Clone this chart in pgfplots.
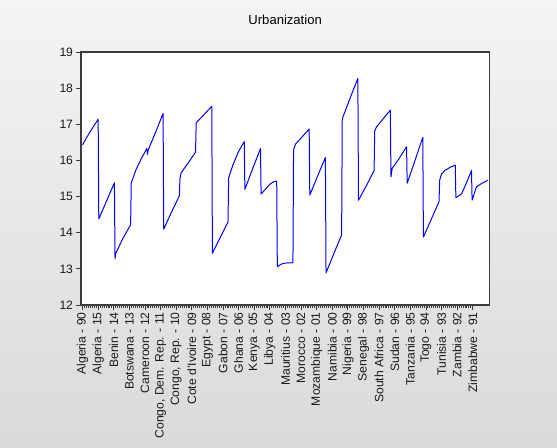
\documentclass[border=0pt]{standalone}
\usepackage{pgfplots}
\pgfplotsset{compat=1.18}
\usepackage{fontspec}
\setmainfont{Liberation Sans}
\definecolor{bgtop}{HTML}{F4F4F4}
\definecolor{bgbot}{HTML}{DADADA}
\definecolor{framec}{HTML}{3C3C3C}
\definecolor{linec}{HTML}{0000FF}
\begin{document}
\begin{tikzpicture}
\shade[top color=bgtop, bottom color=bgbot] (0pt,0pt) rectangle (417.75pt,335.25pt);
\begin{axis}[
  at={(60.75pt,106.5pt)}, anchor=south west,
  scale only axis, width=306.2pt, height=189.75pt,
  xmin=-2.5, xmax=651.5, ymin=12, ymax=19,
  axis background/.style={fill=white},
  axis line style={draw=framec, line width=0.9pt},
  tick style={draw=framec, line width=0.6pt},
  tick align=outside,
  xtick pos=left, ytick pos=left,
  major tick length=3.8pt, minor tick length=2.4pt,
  xtick={0,25,...,625}, minor x tick num=7,
  xticklabels={Algeria - 90, Algeria - 15, Benin - 14, Botswana - 13, Cameroon - 12, {Congo, Dem. Rep. - 11}, {Congo, Rep. - 10}, Cote d'Ivoire - 09, Egypt - 08, Gabon - 07, Ghana - 06, Kenya - 05, Libya - 04, Mauritius - 03, Morocco - 02, Mozambique - 01, Namibia - 00, Nigeria - 99, Senegal - 98, South Africa - 97, Sudan - 96, Tanzania - 95, Togo - 94, Tunisia - 93, Zambia - 92, Zimbabwe - 91},
  xticklabel style={rotate=90, anchor=east, font=\fontsize{9.1}{10}\selectfont, inner sep=1.5pt, text=black!90},
  ytick={12,13,14,15,16,17,18,19},
  yticklabels={12,13,14,15,16,17,18,19},
  yticklabel style={font=\fontsize{9.1}{10}\selectfont, inner sep=2pt, text=black!90},
  /pgf/number format/assume math mode=true,
  title={Urbanization},
  title style={at={(0.5,1)}, anchor=center, yshift=18pt, font=\fontsize{9.8}{12}\selectfont},
]
\addplot[linec, line width=0.75pt, line join=round, mark=none] table {
x y
0 16.43
6 16.62
13 16.82
19 16.98
25 17.14
26 14.38
38 14.86
51 15.38
52 13.27
53 13.42
64 13.82
77 14.22
78 15.38
86 15.76
95 16.08
103 16.33
104 16.17
105 16.28
117 16.78
129 17.30
130 14.10
142 14.55
155 15.02
156 15.50
158 15.66
170 15.95
181 16.23
182 17.04
194 17.26
207 17.50
208 13.43
220 13.85
233 14.30
234 15.52
241 15.88
250 16.25
259 16.52
260 15.20
272 15.75
285 16.33
286 15.07
300 15.34
306 15.41
311 15.43
312 13.06
318 13.13
324 13.16
337 13.17
338 16.29
341 16.45
350 16.62
363 16.87
364 15.04
376 15.55
389 16.08
390 12.89
402 13.40
415 13.94
416 17.15
428 17.70
441 18.27
442 14.90
454 15.28
467 15.72
468 16.82
471 16.93
481 17.14
493 17.39
494 15.55
496 15.78
507 16.05
519 16.38
520 15.37
532 15.97
545 16.64
546 13.88
558 14.35
571 14.86
572 15.45
575 15.62
580 15.72
590 15.82
597 15.87
598 14.97
607 15.07
615 15.38
623 15.72
624 14.90
631 15.27
639 15.36
649 15.45
};
\end{axis}
\end{tikzpicture}
\end{document}
